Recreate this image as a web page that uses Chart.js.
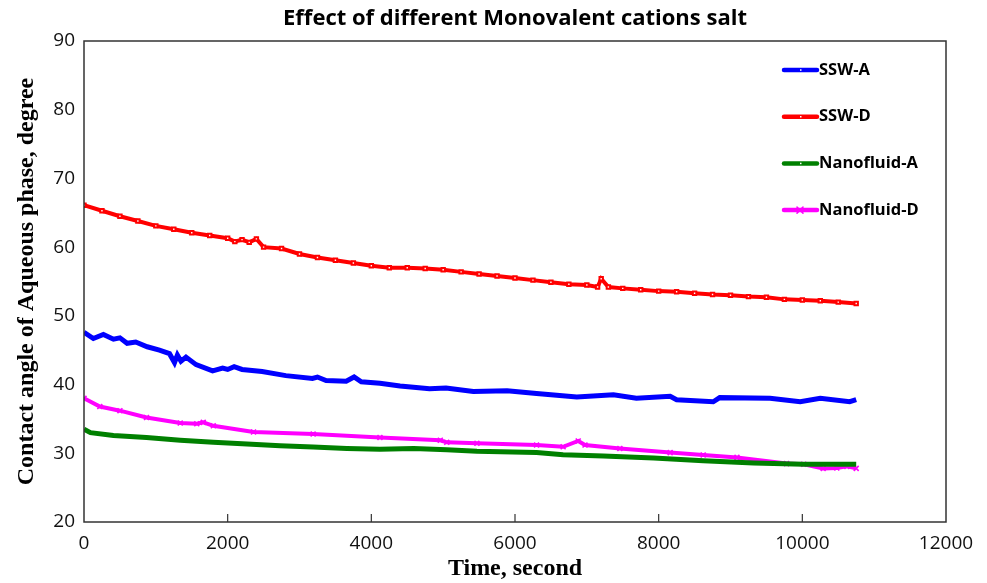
<!DOCTYPE html>
<html>
<head>
<meta charset="utf-8">
<script src="https://cdn.jsdelivr.net/npm/chart.js@4.4.0/dist/chart.umd.min.js"></script>
<style>
html, body { margin: 0; padding: 0; background: #fff; }
</style>
</head>
<body>
<canvas id="chart" width="987" height="583"></canvas>
<script>
// values (time in s, angle in degrees)
const chartTitle = 'Effect of different Monovalent cations salt';
const seriesNames = ['SSW-A', 'SSW-D', 'Nanofluid-A', 'Nanofluid-D'];

const timeSswA = [0, 130, 270, 410, 500, 600, 720, 880, 1050, 1190, 1260, 1300, 1350, 1420, 1560, 1790, 1930, 2000, 2090, 2200, 2480, 2810, 3180, 3250, 3370, 3650, 3760, 3860, 4120, 4400, 4810, 5040, 5420, 5890, 6300, 6860, 7370, 7690, 8160, 8250, 8760, 8850, 9550, 9970, 10250, 10660, 10750];
const sswA = [47.6, 46.7, 47.3, 46.6, 46.8, 46.0, 46.2, 45.5, 45.0, 44.5, 43.2, 44.3, 43.4, 44.0, 42.9, 42.0, 42.4, 42.2, 42.6, 42.2, 41.9, 41.3, 40.9, 41.1, 40.6, 40.5, 41.1, 40.4, 40.2, 39.8, 39.4, 39.5, 39.0, 39.1, 38.7, 38.2, 38.5, 38.0, 38.3, 37.8, 37.5, 38.1, 38.0, 37.5, 38.0, 37.5, 37.8];

const timeSswD = [0, 250, 500, 750, 1000, 1250, 1500, 1750, 2000, 2100, 2200, 2300, 2400, 2500, 2750, 3000, 3250, 3500, 3750, 4000, 4250, 4500, 4750, 5000, 5250, 5500, 5750, 6000, 6250, 6500, 6750, 7000, 7150, 7200, 7300, 7500, 7750, 8000, 8250, 8500, 8750, 9000, 9250, 9500, 9750, 10000, 10250, 10500, 10750];
const sswD = [66.1, 65.3, 64.5, 63.8, 63.1, 62.6, 62.1, 61.7, 61.3, 60.8, 61.1, 60.7, 61.2, 60.0, 59.8, 59.0, 58.5, 58.1, 57.7, 57.3, 57.0, 57.0, 56.9, 56.7, 56.4, 56.1, 55.8, 55.5, 55.2, 54.9, 54.6, 54.5, 54.2, 55.4, 54.2, 54.0, 53.8, 53.6, 53.5, 53.3, 53.1, 53.0, 52.8, 52.7, 52.4, 52.3, 52.2, 52.0, 51.8];

const timeNanoA = [0, 90, 410, 870, 1340, 1800, 2270, 2730, 3190, 3660, 4120, 4590, 5050, 5470, 6300, 6670, 7230, 7930, 8620, 9320, 10020, 10750];
const nanoA = [33.5, 33.0, 32.6, 32.3, 31.9, 31.6, 31.35, 31.1, 30.9, 30.7, 30.6, 30.7, 30.5, 30.3, 30.1, 29.8, 29.6, 29.3, 28.9, 28.6, 28.4, 28.4];

const timeNanoD = [0, 220, 500, 870, 1340, 1570, 1660, 1800, 2360, 3190, 4120, 4960, 5050, 5470, 6300, 6670, 6880, 6975, 7460, 8160, 8620, 9090, 9780, 10020, 10290, 10480, 10620, 10750];
const nanoD = [38.0, 36.8, 36.2, 35.2, 34.4, 34.3, 34.5, 34.0, 33.1, 32.8, 32.3, 31.9, 31.6, 31.45, 31.2, 30.95, 31.8, 31.2, 30.7, 30.1, 29.75, 29.4, 28.5, 28.4, 27.8, 27.85, 28.1, 27.8];

const xMin = 0, xMax = 12000, xStep = 2000;
const yMin = 20, yMax = 90, yStep = 10;

function toPoints(times, values) {
    return times.map(function(t, i) { return { x: t, y: values[i] }; });
}

// title over the plot box, frame, inward x ticks and the legend inside the plot
const framePlugin = {
    id: 'frame',
    afterDatasetsDraw: function(chart) {
        const ctx = chart.ctx;
        const area = chart.chartArea;
        const xScale = chart.scales.x;
        ctx.save();

        ctx.fillStyle = '#000';
        ctx.font = 'bold 22px "Open Sans"';
        ctx.textAlign = 'center';
        ctx.textBaseline = 'middle';
        ctx.fillText(chartTitle, (area.left + area.right) / 2, 19);

        ctx.strokeStyle = '#333';
        ctx.lineWidth = 1.5;
        ctx.strokeRect(area.left, area.top, area.right - area.left, area.bottom - area.top);

        ctx.lineWidth = 1.2;
        xScale.ticks.forEach(function(tick) {
            if (tick.value <= xMin || tick.value >= xMax) return;
            const px = xScale.getPixelForValue(tick.value);
            ctx.beginPath();
            ctx.moveTo(px, area.bottom);
            ctx.lineTo(px, area.bottom - 8);
            ctx.stroke();
        });

        // legend
        const lx = area.right - 162;
        let ly = area.top + 29;
        ctx.font = 'bold 16.5px "Open Sans"';
        ctx.textAlign = 'left';
        chart.data.datasets.forEach(function(ds) {
            ctx.strokeStyle = ds.borderColor;
            ctx.lineWidth = 4.5;
            ctx.lineCap = 'round';
            ctx.beginPath();
            ctx.moveTo(lx, ly);
            ctx.lineTo(lx + 33, ly);
            ctx.stroke();
            if (ds.pointStyle === 'crossRot') {
                ctx.lineWidth = 1.5;
                ctx.beginPath();
                ctx.moveTo(lx + 13, ly - 3); ctx.lineTo(lx + 19, ly + 3);
                ctx.moveTo(lx + 13, ly + 3); ctx.lineTo(lx + 19, ly - 3);
                ctx.stroke();
            } else {
                ctx.fillStyle = '#fff';
                ctx.fillRect(lx + 16, ly - 0.7, 1.5, 1.5);
            }
            ctx.fillStyle = '#000';
            ctx.fillText(ds.label, lx + 35, ly);
            ly += 46.7;
        });
        ctx.restore();
    }
};

new Chart(document.getElementById('chart'), {
    type: 'line',
    data: {
        datasets: [
            {
                label: seriesNames[0],
                data: toPoints(timeSswA, sswA),
                borderColor: '#0000ff',
                backgroundColor: '#0000ff',
                borderWidth: 5,
                pointRadius: 0
            },
            {
                label: seriesNames[1],
                data: toPoints(timeSswD, sswD),
                borderColor: '#ff0000',
                backgroundColor: '#ffffff',
                borderWidth: 4,
                pointStyle: 'rect',
                pointRadius: 2.4,
                pointBorderWidth: 2
            },
            {
                label: seriesNames[2],
                data: toPoints(timeNanoA, nanoA),
                borderColor: '#008000',
                backgroundColor: '#008000',
                borderWidth: 5,
                pointRadius: 0
            },
            {
                label: seriesNames[3],
                data: toPoints(timeNanoD, nanoD),
                borderColor: '#ff00ff',
                backgroundColor: '#ff00ff',
                borderWidth: 4,
                pointStyle: 'crossRot',
                pointRadius: 3.5,
                pointBorderWidth: 1.6
            }
        ]
    },
    options: {
        responsive: false,
        animation: false,
        layout: { padding: { top: 41, right: 41 } },
        plugins: {
            legend: { display: false },
            tooltip: { enabled: false },
            title: { display: false }
        },
        scales: {
            x: {
                type: 'linear',
                min: xMin,
                max: xMax,
                grid: { display: false },
                border: { display: false },
                ticks: {
                    stepSize: xStep,
                    color: '#111',
                    padding: 2,
                    maxRotation: 0,
                    font: { family: 'Open Sans', size: 19 },
                    callback: function(v) { return String(v); }
                },
                title: {
                    display: true,
                    text: 'Time, second',
                    color: '#000',
                    font: { family: 'Liberation Serif', size: 24, weight: 'bold' },
                    padding: { top: 0, bottom: 0 }
                },
                afterFit: function(scale) { scale.height = 61; }
            },
            y: {
                type: 'linear',
                min: yMin,
                max: yMax,
                grid: { display: false },
                border: { display: false },
                ticks: {
                    stepSize: yStep,
                    color: '#111',
                    padding: 1,
                    font: { family: 'Open Sans', size: 19 }
                },
                title: {
                    display: true,
                    text: 'Contact angle of Aqueous phase, degree',
                    color: '#000',
                    font: { family: 'Liberation Serif', size: 24, weight: 'bold' },
                    padding: { top: 12, bottom: 0 }
                },
                afterFit: function(scale) { scale.width = 84; }
            }
        }
    },
    plugins: [framePlugin]
});
</script>
</body>
</html>
